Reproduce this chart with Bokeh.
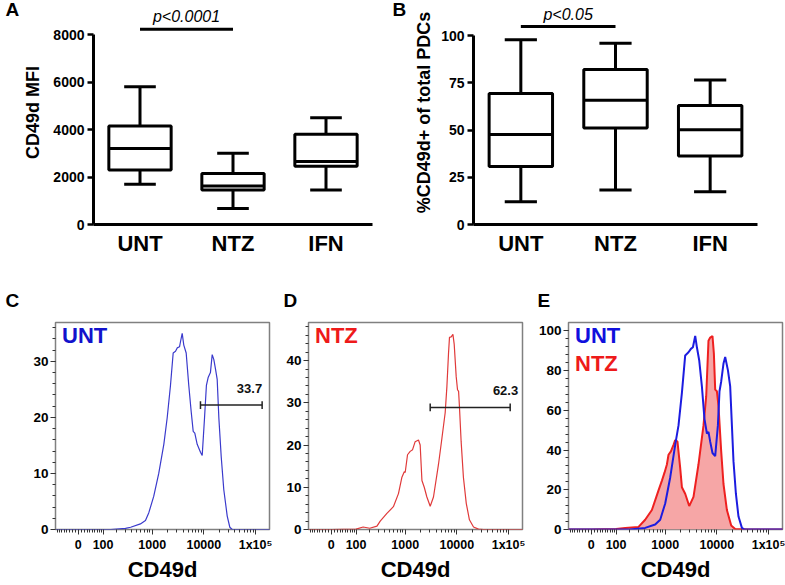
import numpy as np
from bokeh.plotting import figure
from bokeh.layouts import row, column
from bokeh.models import FixedTicker, CustomJSTickFormatter, Range1d
from bokeh.embed import file_html
from bokeh.resources import INLINE
from bokeh.core.properties import value

FONT = "Liberation Sans"

# ---------------- data: box plots ----------------
groups = ["UNT", "NTZ", "IFN"]

mfi_min = [1700, 670, 1450]
mfi_q1 = [2300, 1450, 2450]
mfi_median = [3200, 1620, 2650]
mfi_q3 = [4150, 2150, 3800]
mfi_max = [5800, 3000, 4500]
mfi_ticks = [0, 2000, 4000, 6000, 8000]
mfi_sig = "p<0.0001"

pct_min = [12.0, 18.3, 17.3]
pct_q1 = [30.7, 51.1, 36.2]
pct_median = [47.6, 65.8, 50.1]
pct_q3 = [69.3, 82.0, 63.0]
pct_max = [97.7, 95.9, 76.4]
pct_ticks = [0, 25, 50, 75, 100]
pct_sig = "p<0.05"

panel_letters = ["A", "B", "C", "D", "E"]

# ---------------- data: flow histograms ----------------
unt_cd49d = [-88, 0, 150, 300, 380, 590, 740, 860, 1070, 1340, 1680, 1950, 2260, 2550, 2830,
             3050, 3380, 3530, 3810, 4090, 4550, 5110, 5690, 6220, 6680, 7430, 8610, 9290, 10300, 11200,
             12100, 13400, 14500, 15600, 16800, 18100, 19500, 21700, 24300, 28300, 31800, 35300, 60000, 190000]
unt_count = [0, 0, 0, 0.2, 0.4, 1.0, 1.6, 3.0, 5.9, 10.0, 15.2, 19.9, 25.7, 31.5, 31.8,
             32.4, 32.6, 33.5, 35.0, 32.9, 31.5, 25.7, 21.0, 17.5, 17.2, 15.2, 13.8, 13.2, 19.9, 25.7,
             27.1, 28.0, 31.2, 30.3, 28.6, 26.8, 19.9, 12.9, 7.1, 2.4, 0.4, 0, 0, 0]

ntz_cd49d = [-88, 0, 100, 145, 200, 280, 325, 440, 590, 740, 860, 960, 1000, 1110, 1250,
             1390, 1560, 1810, 1950, 2110, 2340, 2630, 3050, 3530, 4410, 5140, 5950, 6420, 6890, 7200,
             7770, 8390, 8880, 9710, 10300, 10800, 11200, 12100, 13400, 15200, 17500, 21000, 26200, 32800,
             60000, 190000]
ntz_count = [0, 0, 0.1, 0.6, 0.3, 0.8, 2.0, 3.8, 5.4, 8.5, 12.3, 13.7, 13.5, 17.7, 18.5,
             18.9, 20.8, 21.2, 20.0, 11.6, 10.0, 7.7, 5.5, 7.7, 15.4, 21.6, 27.7, 33.9, 41.6, 45.5,
             45.6, 46.2, 43.9, 36.2, 33.1, 32.7, 29.3, 20.8, 12.3, 6.2, 2.3, 0.6, 0.1, 0,
             0, 0]

ovl_ntz_cd49d = [-88, 0, 100, 161, 301, 407, 551, 742, 864, 970, 1079, 1160, 1291, 1450, 1563,
                 1730, 1950, 2107, 2440, 2920, 3532, 4408, 5514, 6220, 6886, 7432, 8230, 8757, 9285, 10010,
                 10750, 12130, 13433, 15640, 18940, 22620, 40000, 190000]
ovl_ntz_pct = [0, 0, 0.3, 0.8, 1.3, 4.9, 9.8, 19.7, 24.6, 28.6, 32.7, 37.6, 39.3, 42.6, 45.0,
               44.2, 31.1, 21.3, 18.0, 11.8, 16.4, 32.7, 52.4, 67.1, 95.0, 96.6, 97.4, 88.5, 70.4, 69.6,
               62.2, 39.3, 22.9, 9.8, 2.0, 0.3, 0, 0]

ovl_unt_cd49d = [-88, 0, 200, 407, 639, 800, 1000, 1251, 1563, 1812, 2107, 2440, 2828, 3146, 3443,
                 3812, 4110, 4553, 5135, 5758, 6418, 6886, 7432, 8230, 9285, 10470, 11245, 12130, 13433, 14490,
                 16350, 18110, 19540, 20970, 23350, 26210, 30520, 34210, 60000, 190000]
ovl_unt_pct = [0, 0, 0, 0.8, 2.5, 4.9, 13.1, 26.2, 42.6, 52.4, 68.8, 87.6, 89.2, 90.9, 91.7,
               97.4, 91.7, 85.2, 72.0, 55.7, 48.3, 49.1, 44.2, 38.5, 36.9, 52.4, 69.6, 74.5, 83.5, 86.8,
               80.2, 72.0, 52.4, 34.4, 18.0, 6.5, 0.8, 0, 0, 0]

gate_unt = (8600, 134000, 22.2, "33.7")
gate_ntz = (3050, 107500, 28.9, "62.3")

flow_tick_values = [0, 100, 1000, 10000, 100000]
flow_tick_labels = ["0", "100", "1000", "10000", "1x10\u2075"]
flow_minor_values = ([-k for k in range(10, 90, 10)] + list(range(10, 100, 10)) +
                     list(range(200, 1000, 100)) + list(range(2000, 10000, 1000)) +
                     list(range(20000, 100000, 10000)))

# ---------------- layout constants ----------------
TOP_H = 285
STRIP_H = 30
BOT_H = 269
BOT_TOP, FRAME_H, FRAME_W = 7, 212, 214
DEC_PX = 51.7
X0 = -0.439
X1 = X0 + FRAME_W / DEC_PX

BLUE_TXT = "#1212cc"
RED_TXT = "#ee1a1a"


def logicle(v):
    return np.arcsinh(np.asarray(v, dtype=float) / 74.2) / np.log(10)


def blank(width, height):
    p = figure(width=width, height=height, x_range=Range1d(0, width), y_range=Range1d(height, 0),
               output_backend="svg", toolbar_location=None, x_axis_location=None,
               y_axis_location=None, min_border=0)
    p.outline_line_color = None
    p.grid.visible = False
    return p


def letters(p, xs, ys, texts):
    p.text(x=xs, y=ys, text=texts, text_font=value(FONT), text_font_style="bold",
           text_font_size="19px", text_align="left", text_baseline="middle",
           text_color="black")


def box_panel(width, bl, br, frame_h, px_per_unit, y_ticks, stats, ylabel, sig_text,
              sig_px, sig_text_px, al_standoff):
    lo, q1, med, q3, hi = [np.asarray(s, dtype=float) for s in stats]
    xs = np.arange(len(groups)) + 0.5
    y_end = frame_h / px_per_unit
    p = figure(width=width, height=TOP_H, x_range=Range1d(0, len(groups)),
               y_range=Range1d(0, y_end), output_backend="svg", toolbar_location=None,
               min_border_left=bl, min_border_right=br, min_border_top=0,
               min_border_bottom=TOP_H - frame_h)
    p.outline_line_color = None
    p.xgrid.visible = False
    p.ygrid.visible = False
    hw, cw = 0.335, 0.17
    kw = dict(line_color="black", line_width=3)
    p.segment(x0=xs, y0=q3, x1=xs, y1=hi, **kw)
    p.segment(x0=xs, y0=lo, x1=xs, y1=q1, **kw)
    p.segment(x0=xs - cw, y0=hi, x1=xs + cw, y1=hi, **kw)
    p.segment(x0=xs - cw, y0=lo, x1=xs + cw, y1=lo, **kw)
    p.quad(left=xs - hw, right=xs + hw, bottom=q1, top=q3, fill_color="white", **kw)
    p.segment(x0=xs - hw, y0=med, x1=xs + hw, y1=med, **kw)
    sig_y = (frame_h - sig_px) / px_per_unit
    sig_ty = (frame_h - sig_text_px) / px_per_unit
    p.segment(x0=[xs[0]], y0=[sig_y], x1=[xs[1]], y1=[sig_y], **kw)
    p.text(x=[(xs[0] + xs[1]) / 2], y=[sig_ty], text=[sig_text], text_font=value(FONT),
           text_font_style="italic", text_font_size="16px", text_align="center",
           text_baseline="middle", text_color="black")

    xa = p.xaxis[0]
    xa.ticker = FixedTicker(ticks=list(xs), minor_ticks=[])
    xa.major_label_overrides = {float(x): g for x, g in zip(xs, groups)}
    xa.major_tick_line_color = None
    xa.minor_tick_line_color = None
    xa.axis_line_width = 3
    xa.axis_line_color = "black"
    xa.major_label_text_font = FONT
    xa.major_label_text_font_style = "bold"
    xa.major_label_text_font_size = "22px"
    xa.major_label_text_color = "black"
    xa.major_label_standoff = 0

    ya = p.yaxis[0]
    ya.ticker = FixedTicker(ticks=y_ticks, minor_ticks=[])
    ya.bounds = (0, y_ticks[-1])
    ya.axis_line_width = 3
    ya.axis_line_color = "black"
    ya.major_tick_line_width = 2.5
    ya.major_tick_line_color = "black"
    ya.major_tick_out = 6
    ya.major_tick_in = 0
    ya.minor_tick_line_color = None
    ya.major_label_text_font = FONT
    ya.major_label_text_font_style = "bold"
    ya.major_label_text_font_size = "14px"
    ya.major_label_text_color = "black"
    ya.major_label_standoff = 3
    ya.axis_label = ylabel
    ya.axis_label_text_font = FONT
    ya.axis_label_text_font_style = "bold"
    ya.axis_label_text_font_size = "18px"
    ya.axis_label_text_color = "black"
    ya.axis_label_standoff = al_standoff
    return p


def flow_panel(width, bl, px_per_unit, y_ticks, y_minor):
    y_end = FRAME_H / px_per_unit
    p = figure(width=width, height=BOT_H, x_range=Range1d(X0, X1), y_range=Range1d(0, y_end),
               output_backend="svg", toolbar_location=None,
               min_border_left=bl, min_border_right=width - bl - FRAME_W,
               min_border_top=BOT_TOP, min_border_bottom=BOT_H - BOT_TOP - FRAME_H)
    p.xgrid.visible = False
    p.ygrid.visible = False
    p.outline_line_color = "#808080"
    p.outline_line_width = 1.5

    xa = p.xaxis[0]
    xa.ticker = FixedTicker(ticks=list(logicle(flow_tick_values)),
                            minor_ticks=list(logicle(flow_minor_values)))
    xa.formatter = CustomJSTickFormatter(args=dict(labels=flow_tick_labels),
                                         code="return labels[index];")
    xa.axis_line_color = None
    xa.major_tick_out = 5
    xa.major_tick_in = 0
    xa.minor_tick_out = 3
    xa.minor_tick_in = 0
    xa.major_tick_line_color = "#333333"
    xa.minor_tick_line_color = "#333333"
    xa.major_label_text_font = FONT
    xa.major_label_text_font_style = "bold"
    xa.major_label_text_font_size = "12.5px"
    xa.major_label_text_color = "black"
    xa.major_label_standoff = 3
    xa.axis_label = "CD49d"
    xa.axis_label_text_font = FONT
    xa.axis_label_text_font_style = "bold"
    xa.axis_label_text_font_size = "22px"
    xa.axis_label_text_color = "black"
    xa.axis_label_standoff = 2

    ya = p.yaxis[0]
    ya.ticker = FixedTicker(ticks=y_ticks, minor_ticks=y_minor)
    ya.axis_line_color = None
    ya.major_tick_out = 5
    ya.major_tick_in = 0
    ya.minor_tick_out = 3
    ya.minor_tick_in = 0
    ya.major_tick_line_color = "#333333"
    ya.minor_tick_line_color = "#333333"
    ya.major_label_text_font = FONT
    ya.major_label_text_font_style = "bold"
    ya.major_label_text_font_size = "13.5px"
    ya.major_label_text_color = "black"
    ya.major_label_standoff = 2
    return p, y_end


def in_frame_label(p, y_end, text, color, dy_px):
    p.text(x=[X0 + 6.5 / DEC_PX], y=[y_end - dy_px * y_end / FRAME_H], text=[text],
           text_font=value(FONT), text_font_style="bold", text_font_size="22px",
           text_color=color, text_align="left", text_baseline="top")


def gate(p, y_end, g, text_dx_px):
    g0, g1, gy, txt = g
    upp = y_end / FRAME_H
    x0, x1 = float(logicle(g0)), float(logicle(g1))
    kw = dict(line_color="#222222", line_width=1.5)
    p.segment(x0=[x0], y0=[gy], x1=[x1], y1=[gy], **kw)
    p.segment(x0=[x0, x1], y0=[gy - 4 * upp] * 2, x1=[x0, x1], y1=[gy + 4 * upp] * 2, **kw)
    p.text(x=[x1 + text_dx_px / DEC_PX], y=[gy + 17 * upp], text=[txt], text_font=value(FONT),
           text_font_style="bold", text_font_size="13px", text_align="right",
           text_baseline="middle", text_color="#111111")


# ---------------- top row ----------------
sA = blank(20, TOP_H)
letters(sA, [5], [12], [panel_letters[0]])
pA = box_panel(360, 70, 8, 225, 190.7 / 8000, mfi_ticks,
               (mfi_min, mfi_q1, mfi_median, mfi_q3, mfi_max), "CD49d MFI",
               mfi_sig, 29, 16, 7)
sB = blank(26, TOP_H)
letters(sB, [12], [12], [panel_letters[1]])
pB = box_panel(379, 67, 28, 224, 1.89, pct_ticks,
               (pct_min, pct_q1, pct_median, pct_q3, pct_max), "%CD49d+ of total PDCs",
               pct_sig, 26, 14, 4)

# ---------------- bottom strip with panel letters ----------------
sBot = blank(785, STRIP_H)
letters(sBot, [5, 283, 537], [15, 15, 15], panel_letters[2:])

# ---------------- bottom row ----------------
pC, yC = flow_panel(272, 55, 5.74, [0, 10, 20, 30], list(range(2, 37, 2)))
pC.line(x=logicle(unt_cd49d), y=unt_count, line_color="#3a3acc", line_width=1.2)
gate(pC, yC, gate_unt, 0)
in_frame_label(pC, yC, "UNT", BLUE_TXT, 1)

pD, yD = flow_panel(253, 36, 4.325, [0, 10, 20, 30, 40], list(range(2, 49, 2)))
pD.line(x=logicle(ntz_cd49d), y=ntz_count, line_color="#e03a3a", line_width=1.2)
gate(pD, yD, gate_ntz, 8)
in_frame_label(pD, yD, "NTZ", RED_TXT, 1)

pE, yE = flow_panel(260, 43, 2.035, [0, 20, 40, 60, 80, 100], list(range(4, 104, 4)))
pE.varea(x=logicle(ovl_ntz_cd49d), y1=0, y2=ovl_ntz_pct, fill_color="#f6a6a6", fill_alpha=1)
pE.line(x=logicle(ovl_ntz_cd49d), y=ovl_ntz_pct, line_color="#ee2020", line_width=2)
pE.line(x=logicle(ovl_unt_cd49d), y=ovl_unt_pct, line_color="#1c1ce0", line_width=2)
in_frame_label(pE, yE, "UNT", "#1010dd", 1)
in_frame_label(pE, yE, "NTZ", RED_TXT, 29)

layout = column(row(sA, pA, sB, pB), sBot, row(pC, pD, pE))
open("out.html", "w").write(file_html(layout, INLINE))
